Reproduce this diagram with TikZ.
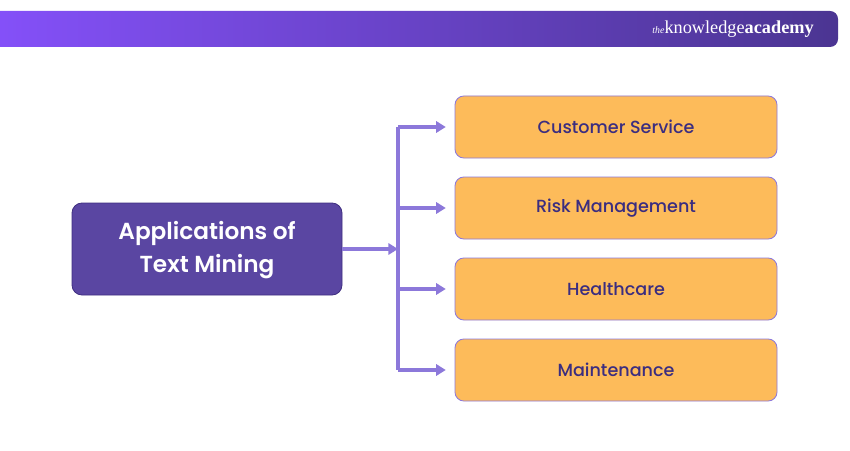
\documentclass[tikz,border=0pt]{standalone}
\usepackage{fontspec}
\setmainfont{Poppins}
\newfontfamily\popmedium{Poppins Medium}
\newfontfamily\popsemi{Poppins SemiBold}
\usetikzlibrary{arrows.meta,positioning,calc}
\definecolor{barleft}{HTML}{8450F8}
\definecolor{barright}{HTML}{4B3592}
\definecolor{mainfill}{HTML}{5A46A2}
\definecolor{mainline}{HTML}{3F2F80}
\definecolor{appfill}{HTML}{FDBB5A}
\definecolor{appline}{HTML}{8C78DA}
\definecolor{apptext}{HTML}{3B2D80}
\tikzset{
  mainbox/.style={draw=mainline, fill=mainfill, rounded corners=0.25cm, line width=0.6pt,
    minimum width=6.75cm, minimum height=2.3cm, align=center, text=white,
    text depth=0.1cm, font=\popsemi\fontsize{16.5}{23.4}\selectfont},
  appbox/.style={draw=appline, fill=appfill, rounded corners=0.22cm, line width=0.6pt,
    minimum width=8.05cm, minimum height=1.55cm, text=apptext,
    font=\popmedium\fontsize{12.5}{15}\selectfont},
  branch/.style={line width=2.3pt, color=appline, -{Triangle[length=2.4mm,width=2.8mm]}},
}
\begin{document}
\begin{tikzpicture}
			%%%%% START %%%%%
			\useasboundingbox (0,0) rectangle (21.25,11.25);
			
			% header bar
			\shade[left color=barleft, right color=barright] (0,10.075) -- (0,10.975)
				[rounded corners=0.2cm] -- (20.95,10.975) -- (20.95,10.075) [sharp corners] -- cycle;
			\node[anchor=east, text=white, inner sep=0pt] (logo) at (20.35,10.525)
				{\fontspec{Liberation Serif}{\fontsize{7}{8}\selectfont\itshape the}\fontsize{13}{15}\selectfont\upshape knowledge{\bfseries\upshape academy}};
			
			% main node
			\node[mainbox] (apps) at (5.175,5.025) {Applications of\\Text Mining};
			
			% applications
			\node[appbox] (cs) at (15.4,8.075) {Customer Service};
			\node[appbox] (rm) at (15.4,6.05) {Risk Management};
			\node[appbox] (hc) at (15.4,4.025) {Healthcare};
			\node[appbox] (mt) at (15.4,2.0) {Maintenance};
			
			% connectors
			\coordinate (trunk) at (9.95,5.025);
			\draw[branch] (apps.east) -- (trunk);
			\draw[line width=2.3pt, color=appline] (trunk |- cs.west) -- (trunk |- mt.west);
			\foreach \app in {cs,rm,hc,mt}
				\draw[branch] (trunk |- \app.west) -- ([xshift=-0.22cm]\app.west);
			
			%%%%% END %%%%%
		\end{tikzpicture}
\end{document}
